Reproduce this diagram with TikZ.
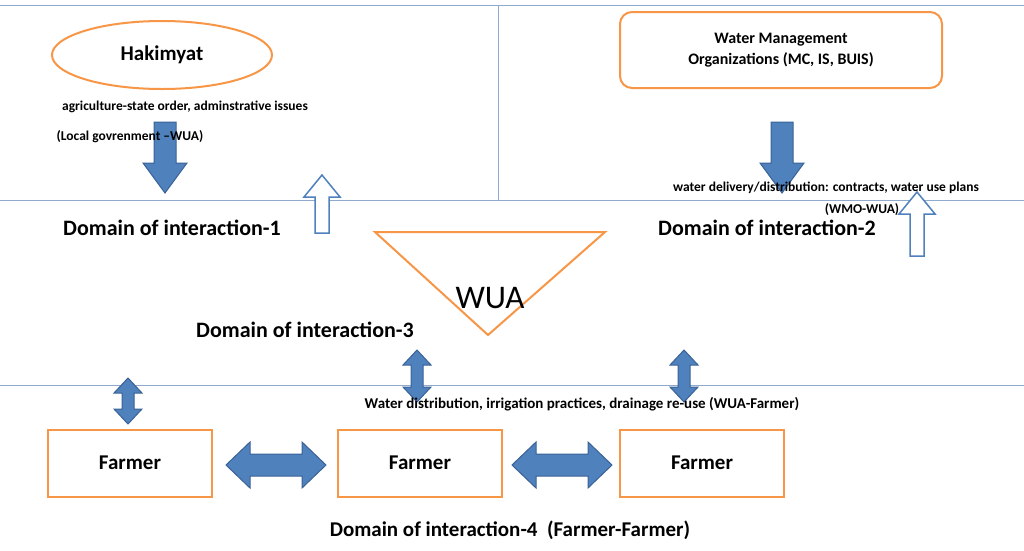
\documentclass[tikz,border=0pt]{standalone}
\usepackage{fontspec}
\setmainfont{Carlito}
\usetikzlibrary{shapes.geometric}
\definecolor{ablue}{HTML}{4F81BD}
\definecolor{dblue}{HTML}{3A6296}
\definecolor{orng}{HTML}{F79646}
\definecolor{grid}{HTML}{8FAACC}
% vertical single arrow: x, tail y, tip y, shaft half, head half, head length, style
\newcommand\myvarrow[7]{\path[#7] ({#1-#4},#2) -- ({#1-#4},{#3-sign(#3-#2)*#6}) -- ({#1-#5},{#3-sign(#3-#2)*#6}) -- (#1,#3) -- ({#1+#5},{#3-sign(#3-#2)*#6}) -- ({#1+#4},{#3-sign(#3-#2)*#6}) -- ({#1+#4},#2) -- cycle;}
% vertical double arrow: x, top y, bottom y, shaft half, head half, head length
\newcommand\myvdarrow[6]{\path[dbl] (#1,#2) -- ({#1+#5},{#2+#6}) -- ({#1+#4},{#2+#6}) -- ({#1+#4},{#3-#6}) -- ({#1+#5},{#3-#6}) -- (#1,#3) -- ({#1-#5},{#3-#6}) -- ({#1-#4},{#3-#6}) -- ({#1-#4},{#2+#6}) -- ({#1-#5},{#2+#6}) -- cycle;}
% horizontal double arrow: y, left x, right x, shaft half, head half, head length
\newcommand\myhdarrow[6]{\path[dbl] (#2,#1) -- ({#2+#6},{#1-#5}) -- ({#2+#6},{#1-#4}) -- ({#3-#6},{#1-#4}) -- ({#3-#6},{#1-#5}) -- (#3,#1) -- ({#3-#6},{#1+#5}) -- ({#3-#6},{#1+#4}) -- ({#2+#6},{#1+#4}) -- ({#2+#6},{#1+#5}) -- cycle;}
\begin{document}
\begin{tikzpicture}[x=1pt,y=-1pt,
  sep/.style={draw=grid,line width=1pt},
  obox/.style={draw=orng,line width=2pt,fill=white},
  dom/.style={font=\fontsize{22}{26}\selectfont\bfseries},
  lab/.style={font=\fontsize{13.5}{16}\selectfont\bfseries},
  farm/.style={obox,minimum width=164pt,minimum height=67pt,font=\fontsize{21}{24}\selectfont\bfseries},
  filled/.style={fill=ablue,draw=dblue,line width=1pt},
  hollow/.style={fill=white,draw=ablue,line width=1.5pt},
  dbl/.style={fill=ablue,draw=dblue,line width=1pt}]
\useasboundingbox (0,0) rectangle (1024,550);
% separators
\coordinate (l1a) at (0,5); \coordinate (l1b) at (1024,5);
\coordinate (l2a) at (0,200); \coordinate (l2b) at (1024,200);
\coordinate (l3a) at (0,385); \coordinate (l3b) at (1024,385);
\coordinate (v1) at (498,5); \coordinate (v2) at (498,200);
\draw[sep] (l1a)--(l1b); \draw[sep] (l2a)--(l2b); \draw[sep] (l3a)--(l3b); \draw[sep] (v1)--(v2);
% top left
\node[obox,ellipse,minimum width=220pt,minimum height=68pt,font=\fontsize{21}{24}\selectfont\bfseries] (hak) at (162,55) {Hakimyat};
\myvarrow{165}{122}{193}{11}{22}{30}{filled}
\node[lab] (t1) at (185,107) {agriculture-state order, adminstrative issues};
\node[lab] (t2) at (130,137) {(Local govrenment --WUA)};
\myvarrow{322}{233}{175}{7}{18}{22}{hollow}
\node[dom] (d1) at (172,228) {Domain of interaction-1};
% top right
\node[obox,rounded corners=12pt,minimum width=322pt,minimum height=76pt,align=center,font=\fontsize{16}{21}\selectfont\bfseries] (wmo) at (781,50) {Water Management\\Organizations (MC, IS, BUIS)};
\myvarrow{782}{122}{193}{11}{22}{30}{filled}
\myvarrow{917}{256}{192}{7}{18}{22}{hollow}
\node[lab] (t3) at (826,188) {water delivery/distribution: contracts, water use plans};
\node[lab] (t4) at (862,210) {(WMO-WUA)};
\node[dom] (d2) at (767,228) {Domain of interaction-2};
% WUA
\coordinate (ta) at (375,232); \coordinate (tb) at (605,232); \coordinate (tc) at (488,335);
\draw[draw=orng,line width=2pt,fill=white] (ta)--(tb)--(tc)--cycle;
\node[font=\fontsize{33}{36}\selectfont] (wua) at (490,298) {WUA};
\node[dom] (d3) at (305,330) {Domain of interaction-3};
% vertical double arrows
\myvdarrow{128}{378}{424}{6}{14}{15}
\myvdarrow{417}{350}{402}{6}{14}{15}
\myvdarrow{684}{350}{402}{6}{14}{15}
\node[font=\fontsize{15}{18}\selectfont\bfseries] (t5) at (582,404) {Water distribution, irrigation practices, drainage re-use (WUA-Farmer)};
% farmers
\node[farm] (f1) at (130,463) {Farmer};
\node[farm] (f2) at (420,463) {Farmer};
\node[farm] (f3) at (702,463) {Farmer};
\myhdarrow{465}{226}{326}{11}{23}{24}
\myhdarrow{465}{512}{612}{11}{23}{24}
\node[font=\fontsize{21}{24}\selectfont\bfseries] (d4) at (510,530) {Domain of interaction-4 \ (Farmer-Farmer)};
\end{tikzpicture}
\end{document}
